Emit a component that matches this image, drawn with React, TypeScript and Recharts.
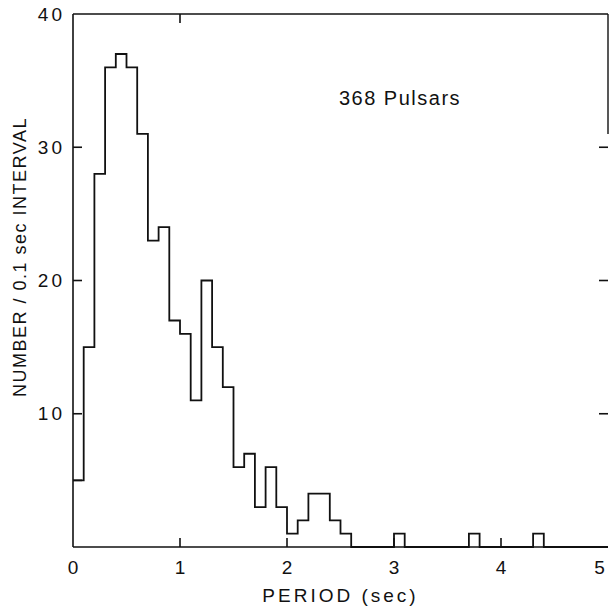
import { ComposedChart, Line, XAxis, YAxis, ReferenceLine } from "recharts";

// counts per 0.1 s bin, from 0.0 to 5.0 s
const binCounts = [
  5, 15, 28, 36, 37, 36, 31, 23, 24, 17,
  16, 11, 20, 15, 12, 6, 7, 3, 6, 3,
  1, 2, 4, 4, 2, 1, 0, 0, 0, 0,
  1, 0, 0, 0, 0, 0, 0, 1, 0, 0,
  0, 0, 0, 1, 0, 0, 0, 0, 0, 0,
];
const binWidth = 0.1;
const xTicks = [0, 1, 2, 3, 4, 5];
const yTicks = [5, 10, 20, 30, 40];
const yLabelled = [10, 20, 30, 40];
const rightTicks = [10, 20, 30];
const topTicks = [1];
const totalLabel = "368 Pulsars";

const font = "'Liberation Sans', Arial, sans-serif";
const ink = "#111";

// plot box (follows from the margins and axis sizes below)
const LEFT = 73;
const TOP = 14;
const RIGHT = 608;
const BOTTOM = 547;
const TICK = 9;

const numStyle = { fill: ink, fontSize: 19, fontFamily: font, letterSpacing: 3 };

// left axis tick, also draws the matching inward tick on the right frame
function LeftTick(props: any) {
  const { y, payload } = props;
  return (
    <g>
      {payload.value < 40 && (
        <line x1={LEFT} x2={LEFT + TICK} y1={y} y2={y} stroke={ink} strokeWidth={1.6} />
      )}
      {rightTicks.includes(payload.value) && (
        <line x1={RIGHT} x2={RIGHT - TICK} y1={y} y2={y} stroke={ink} strokeWidth={1.6} />
      )}
      {yLabelled.includes(payload.value) && (
        <text x={LEFT - 8} y={y} textAnchor="end" dominantBaseline="central" {...numStyle}>
          {payload.value}
        </text>
      )}
    </g>
  );
}

function BottomTick(props: any) {
  const { x, payload } = props;
  return (
    <g>
      {payload.value > 0 && payload.value < 5 && (
        <line x1={x} x2={x} y1={BOTTOM} y2={BOTTOM - TICK} stroke={ink} strokeWidth={1.6} />
      )}
      <text
        x={Math.min(x + 1.5, RIGHT - 7)}
        y={BOTTOM + 20}
        textAnchor="middle"
        dominantBaseline="central"
        {...numStyle}
      >
        {payload.value}
      </text>
    </g>
  );
}

function TopTick(props: any) {
  const { x } = props;
  return <line x1={x} x2={x} y1={TOP} y2={TOP + TICK} stroke={ink} strokeWidth={1.6} />;
}

function NoTick() {
  return <g />;
}

export default function App() {
  const data = binCounts.map((count, i) => ({
    period: Number((i * binWidth).toFixed(1)),
    count,
  }));
  data.push({ period: binCounts.length * binWidth, count: 0 });

  return (
    <div style={{ position: "absolute", left: 0, top: 0, background: "#fff" }}>
      <ComposedChart
        width={611}
        height={607}
        data={data}
        margin={{ top: 13, right: 2, bottom: 0, left: 0 }}
      >
        <XAxis
          dataKey="period"
          type="number"
          domain={[0, 5]}
          ticks={xTicks}
          interval={0}
          height={60}
          tickLine={false}
          tick={BottomTick}
          stroke={ink}
          strokeWidth={1.6}
          label={{
            value: "PERIOD (sec)",
            position: "insideBottom",
            offset: 5,
            style: { fill: ink, fontSize: 19, fontFamily: font, letterSpacing: 3 },
          }}
        />
        <XAxis
          xAxisId="top"
          dataKey="period"
          type="number"
          orientation="top"
          domain={[0, 5]}
          ticks={topTicks}
          interval={0}
          height={1}
          tickLine={false}
          tick={TopTick}
          stroke={ink}
          strokeWidth={1.4}
        />
        <YAxis
          domain={[0, 40]}
          ticks={yTicks}
          interval={0}
          width={73}
          tickLine={false}
          tick={LeftTick}
          stroke={ink}
          strokeWidth={1.6}
        />
        <YAxis
          yAxisId="right"
          orientation="right"
          domain={[0, 40]}
          ticks={rightTicks}
          interval={0}
          width={1}
          tickLine={false}
          tick={NoTick}
          axisLine={false}
        />
        <ReferenceLine
          segment={[
            { x: 5, y: 31 },
            { x: 5, y: 40 },
          ]}
          stroke={ink}
          strokeWidth={1.4}
        />
        <Line
          type="stepAfter"
          dataKey="count"
          stroke={ink}
          strokeWidth={1.8}
          dot={false}
          isAnimationActive={false}
        />
        <text
          x={400}
          y={98}
          textAnchor="middle"
          dominantBaseline="central"
          fill={ink}
          fontSize={20}
          fontFamily={font}
          letterSpacing={1.5}
        >
          {totalLabel}
        </text>
        <text
          x={20}
          y={257}
          transform="rotate(-90, 20, 257)"
          textAnchor="middle"
          dominantBaseline="central"
          fill={ink}
          fontSize={18}
          fontFamily={font}
          letterSpacing={1.5}
        >
          NUMBER / 0.1 sec INTERVAL
        </text>
      </ComposedChart>
    </div>
  );
}
